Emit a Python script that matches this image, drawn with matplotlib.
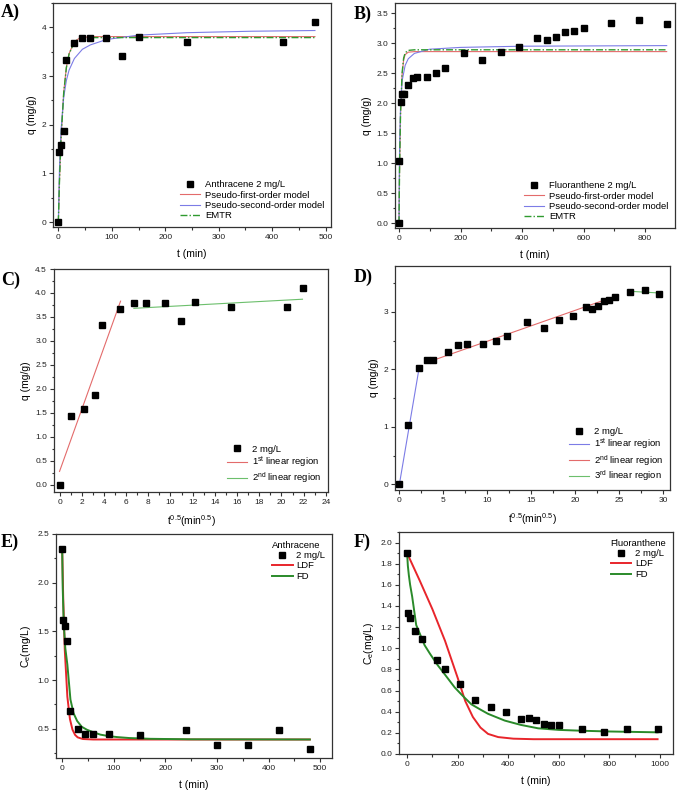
import matplotlib
matplotlib.use('Agg')
import matplotlib.pyplot as plt
from matplotlib.ticker import MultipleLocator, FormatStrFormatter

plt.rcParams['font.family'] = ['Liberation Sans', 'DejaVu Sans']
plt.rcParams['mathtext.default'] = 'regular'

# ---------- Panel A: Anthracene kinetics ----------
anth_t = [0, 1, 5, 10, 15, 30, 45, 60, 90, 120, 150, 240, 420, 480]
anth_q = [0, 1.44, 1.58, 1.88, 3.33, 3.67, 3.79, 3.79, 3.79, 3.41, 3.81, 3.70, 3.70, 4.10]
a_pfo_t = [0, 2, 5, 10, 15, 20, 30, 40, 60, 90, 480]
a_pfo_q = [0, 0.81, 1.72, 2.66, 3.18, 3.46, 3.71, 3.78, 3.81, 3.81, 3.81]
a_pso_t = [0, 2, 5, 10, 15, 20, 30, 45, 60, 90, 150, 240, 360, 480]
a_pso_q = [0, 1.06, 1.89, 2.56, 2.91, 3.12, 3.36, 3.55, 3.64, 3.75, 3.84, 3.89, 3.92, 3.935]
a_emtr_t = [0, 2, 5, 10, 15, 20, 30, 40, 60, 90, 480]
a_emtr_q = [0, 0.80, 1.71, 2.65, 3.17, 3.45, 3.70, 3.77, 3.79, 3.79, 3.79]

# ---------- Panel B: Fluoranthene kinetics ----------
flu_t = [0, 1, 5, 10, 15, 30, 45, 60, 90, 120, 150, 210, 270, 330, 390, 450,
         480, 510, 540, 570, 600, 690, 780, 870]
flu_q = [0, 1.03, 2.02, 2.16, 2.16, 2.31, 2.42, 2.44, 2.44, 2.50, 2.58, 2.83,
         2.72, 2.86, 2.93, 3.09, 3.06, 3.11, 3.19, 3.20, 3.26, 3.34, 3.39, 3.32]
b_pfo_t = [0, 1, 2, 5, 10, 15, 20, 30, 50, 870]
b_pfo_q = [0, 0.52, 0.94, 1.81, 2.47, 2.72, 2.81, 2.85, 2.86, 2.86]
b_pso_t = [0, 1, 2, 5, 10, 20, 30, 50, 100, 200, 400, 870]
b_pso_q = [0, 0.84, 1.30, 1.97, 2.37, 2.63, 2.74, 2.83, 2.90, 2.93, 2.95, 2.96]
b_emtr_t = [0, 1, 2, 5, 10, 15, 20, 30, 50, 870]
b_emtr_q = [0, 0.53, 0.95, 1.83, 2.50, 2.75, 2.84, 2.88, 2.89, 2.89]

# ---------- Panel C: intraparticle diffusion, Anthracene ----------
anth_sqrt_t = [0, 1.0, 2.24, 3.16, 3.87, 5.48, 6.71, 7.75, 9.49, 10.95, 12.25, 15.49, 20.49, 21.91]
c_lin1_x = [0, 5.5]
c_lin1_q = [0.28, 3.83]
c_lin2_x = [6.7, 21.9]
c_lin2_q = [3.68, 3.87]

# ---------- Panel D: intraparticle diffusion, Fluoranthene ----------
flu_sqrt_t = [0, 1.0, 2.24, 3.16, 3.87, 5.48, 6.71, 7.75, 9.49, 10.95, 12.25, 14.49,
              16.43, 18.17, 19.75, 21.21, 21.91, 22.58, 23.24, 23.87, 24.49, 26.27, 27.93, 29.50]
d_lin1_x = [0, 2.24]
d_lin1_q = [0, 2.02]
d_lin2_x = [3.5, 24.5]
d_lin2_q = [2.14, 3.27]
d_lin3_x = [26.2, 29.6]
d_lin3_q = [3.36, 3.33]

# ---------- Panel E: Anthracene concentration ----------
e_t = [0, 1, 5, 10, 15, 30, 45, 60, 90, 150, 240, 300, 360, 420, 480]
e_c = [2.35, 1.62, 1.56, 1.40, 0.68, 0.50, 0.45, 0.45, 0.45, 0.44, 0.49, 0.33, 0.33, 0.49, 0.29]
e_ldf_t = [0, 2, 5, 10, 15, 20, 25, 30, 40, 60, 480]
e_ldf_c = [2.35, 1.84, 1.31, 0.83, 0.60, 0.49, 0.437, 0.412, 0.395, 0.39, 0.39]
e_fd_t = [0, 1, 3, 6, 10, 16, 22, 29, 38, 48, 60, 74, 90, 106, 130, 171, 250, 480]
e_fd_c = [2.35, 1.95, 1.58, 1.33, 1.16, 0.80, 0.66, 0.58, 0.52, 0.49, 0.465, 0.44, 0.425, 0.415, 0.405, 0.397, 0.392, 0.39]

# ---------- Panel F: Fluoranthene concentration ----------
f_t = [0, 5, 10, 30, 60, 120, 150, 210, 270, 330, 390, 450, 480, 510, 540, 570, 600, 690, 780, 870, 990]
f_c = [1.90, 1.33, 1.29, 1.16, 1.09, 0.89, 0.80, 0.66, 0.51, 0.44, 0.40, 0.33, 0.34, 0.32,
       0.28, 0.275, 0.275, 0.234, 0.21, 0.237, 0.237]
f_ldf_t = [0, 50, 100, 150, 200, 230, 260, 290, 320, 360, 420, 500, 990]
f_ldf_c = [1.90, 1.64, 1.37, 1.07, 0.72, 0.50, 0.35, 0.25, 0.19, 0.16, 0.145, 0.14, 0.14]
f_fd_t = [0, 3, 7, 12, 20, 36, 50, 69, 90, 121, 150, 188, 220, 254, 290, 320, 386, 450, 518, 600, 690, 800, 990]
f_fd_c = [1.90, 1.78, 1.69, 1.60, 1.49, 1.22, 1.14, 1.03, 0.95, 0.84, 0.75, 0.63, 0.55, 0.47, 0.42, 0.38, 0.316, 0.275, 0.243, 0.228, 0.22, 0.213, 0.205]

W, H = 677, 794
fig = plt.figure(figsize=(W / 100, H / 100), dpi=100)


def make_ax(left, right, top, bottom):
    return fig.add_axes([left / W, 1 - bottom / H, (right - left) / W, (bottom - top) / H])


def style(ax, xmaj, xmin, ymaj, ymin):
    ax.xaxis.set_major_locator(MultipleLocator(xmaj))
    ax.xaxis.set_minor_locator(MultipleLocator(xmin))
    ax.yaxis.set_major_locator(MultipleLocator(ymaj))
    ax.yaxis.set_minor_locator(MultipleLocator(ymin))
    ax.tick_params(which='both', direction='out', top=False, right=False,
                   width=0.8, colors='#333333', labelcolor='#222222')
    ax.tick_params(which='major', length=3, labelsize=6, pad=2)
    ax.tick_params(which='minor', length=1.8)
    for s in ax.spines.values():
        s.set_linewidth(0.9)
        s.set_color('#333333')


def panel_label(ax, txt, dx, dy):
    fig.text(dx / W, 1 - dy / H, txt, fontsize=13, fontweight='bold',
             family='Liberation Serif', ha='left', va='center')


LBL = 7.5
LEG = 6.8
MS = 3.8
light_red = '#e36b6b'
light_blue = '#7c7ce6'
emtr_green = '#2f9a2f'
XPAD = 6
YPAD = 3

# ----- A -----
ax = make_ax(53, 331, 3, 227)
ax.plot(anth_t, anth_q, 's', color='black', ms=MS, label='Anthracene 2 mg/L', zorder=5)
ax.plot(a_pfo_t, a_pfo_q, '-', color=light_red, lw=0.8, label='Pseudo-first-order model')
ax.plot(a_pso_t, a_pso_q, '-', color=light_blue, lw=0.8, label='Pseudo-second-order model')
ax.plot(a_emtr_t, a_emtr_q, color=emtr_green, lw=1.0, dashes=(5, 1.5, 1, 1.5), label='EMTR')
ax.set_xlim(-10, 510)
ax.set_ylim(-0.1, 4.5)
style(ax, 100, 50, 1, 0.5)
ax.set_xlabel('t (min)', fontsize=LBL, labelpad=XPAD)
ax.set_ylabel('q (mg/g)', fontsize=LBL, labelpad=YPAD)
ax.legend(loc='lower right', bbox_to_anchor=(1.0, 0.0), frameon=False, fontsize=LEG,
          numpoints=1, labelspacing=0.15, handlelength=2.2, handletextpad=0.5,
          borderaxespad=0.3)
panel_label(ax, 'A)', 1, 12)

# ----- B -----
ax = make_ax(395, 675, 3, 228)
ax.plot(flu_t, flu_q, 's', color='black', ms=MS, label='Fluoranthene 2 mg/L', zorder=5)
ax.plot(b_pfo_t, b_pfo_q, '-', color=light_red, lw=0.8, label='Pseudo-first-order model')
ax.plot(b_pso_t, b_pso_q, '-', color=light_blue, lw=0.8, label='Pseudo-second-order model')
ax.plot(b_emtr_t, b_emtr_q, color=emtr_green, lw=1.0, dashes=(5, 1.5, 1, 1.5), label='EMTR')
ax.set_xlim(-13, 897)
ax.set_ylim(-0.08, 3.67)
style(ax, 200, 100, 0.5, 0.25)
ax.yaxis.set_major_formatter(FormatStrFormatter('%.1f'))
ax.set_xlabel('t (min)', fontsize=LBL, labelpad=XPAD)
ax.set_ylabel('q (mg/g)', fontsize=LBL, labelpad=YPAD)
ax.legend(loc='lower right', bbox_to_anchor=(1.0, 0.0), frameon=False, fontsize=LEG,
          numpoints=1, labelspacing=0.15, handlelength=2.2, handletextpad=0.5,
          borderaxespad=0.3)
panel_label(ax, 'B)', 354, 14)

# ----- C -----
ax = make_ax(54, 328, 269, 492)
ax.plot(anth_sqrt_t, anth_q, 's', color='black', ms=MS, label='2 mg/L', zorder=5)
ax.plot(c_lin1_x, c_lin1_q, '-', color=light_red, lw=0.8, label='1$^{st}$ linear region')
ax.plot(c_lin2_x, c_lin2_q, '-', color='#6cbf6c', lw=0.8, label='2$^{nd}$ linear region')
ax.set_xlim(-0.5, 24.2)
ax.set_ylim(-0.15, 4.5)
style(ax, 2, 1, 0.5, 0.25)
ax.yaxis.set_major_formatter(FormatStrFormatter('%.1f'))
ax.set_xlabel('t$^{0.5}$(min$^{0.5}$)', fontsize=LBL, labelpad=XPAD - 1)
ax.set_ylabel('q (mg/g)', fontsize=LBL, labelpad=YPAD)
ax.legend(loc='lower right', bbox_to_anchor=(1.0, 0.0), frameon=False, fontsize=LEG,
          numpoints=1, labelspacing=0.1, handlelength=2.2, handletextpad=0.5,
          borderaxespad=0.3)
panel_label(ax, 'C)', 1, 280)

# ----- D -----
ax = make_ax(395, 670, 266, 490)
ax.plot(flu_sqrt_t, flu_q, 's', color='black', ms=MS, label='2 mg/L', zorder=5)
ax.plot(d_lin1_x, d_lin1_q, '-', color=light_blue, lw=0.8, label='1$^{st}$ linear region')
ax.plot(d_lin2_x, d_lin2_q, '-', color=light_red, lw=0.8, label='2$^{nd}$ linear region')
ax.plot(d_lin3_x, d_lin3_q, '-', color='#6cbf6c', lw=0.8, label='3$^{rd}$ linear region')
ax.set_xlim(-0.5, 30.8)
ax.set_ylim(-0.1, 3.8)
style(ax, 5, 2.5, 1, 0.5)
ax.set_xlabel('t$^{0.5}$(min$^{0.5}$)', fontsize=LBL, labelpad=XPAD - 1)
ax.set_ylabel('q (mg/g)', fontsize=LBL, labelpad=YPAD)
ax.legend(loc='lower right', bbox_to_anchor=(1.0, 0.0), frameon=False, fontsize=LEG,
          numpoints=1, labelspacing=0.1, handlelength=2.2, handletextpad=0.5,
          borderaxespad=0.3)
panel_label(ax, 'D)', 354, 277)

# ----- E -----
ax = make_ax(56, 332, 534, 758)
ax.plot(e_t, e_c, 's', color='black', ms=MS, label='2 mg/L', zorder=5)
ax.plot(e_ldf_t, e_ldf_c, '-', color='#e8252b', lw=1.4, label='LDF')
ax.plot(e_fd_t, e_fd_c, '-', color='#2a8a2a', lw=1.4, label='FD')
ax.set_xlim(-12, 523)
ax.set_ylim(0.2, 2.5)
style(ax, 100, 50, 0.5, 0.25)
ax.yaxis.set_major_formatter(FormatStrFormatter('%.1f'))
ax.set_xlabel('t (min)', fontsize=LBL, labelpad=XPAD)
ax.set_ylabel('C$_e$(mg/L)', fontsize=LBL, labelpad=YPAD)
ax.legend(loc='upper right', frameon=False, fontsize=LEG, title='Anthracene',
          title_fontsize=LEG, numpoints=1, labelspacing=0.15, handlelength=2.2,
          handletextpad=0.4, borderaxespad=0.3, alignment='left')
panel_label(ax, 'E)', 1, 542)

# ----- F -----
ax = make_ax(399, 673, 532, 754)
ax.plot(f_t, f_c, 's', color='black', ms=MS, label='2 mg/L', zorder=5)
ax.plot(f_ldf_t, f_ldf_c, '-', color='#e8252b', lw=1.4, label='LDF')
ax.plot(f_fd_t, f_fd_c, '-', color='#2a8a2a', lw=1.4, label='FD')
ax.set_xlim(-32, 1051)
ax.set_ylim(0, 2.1)
style(ax, 200, 100, 0.2, 0.1)
ax.yaxis.set_major_formatter(FormatStrFormatter('%.1f'))
ax.set_xlabel('t (min)', fontsize=LBL, labelpad=XPAD)
ax.set_ylabel('C$_e$(mg/L)', fontsize=LBL, labelpad=YPAD)
ax.legend(loc='upper right', frameon=False, fontsize=LEG, title='Fluoranthene',
          title_fontsize=LEG, numpoints=1, labelspacing=0.15, handlelength=2.2,
          handletextpad=0.4, borderaxespad=0.3, alignment='left')
panel_label(ax, 'F)', 354, 542)

fig.savefig('out.png', dpi=100)
